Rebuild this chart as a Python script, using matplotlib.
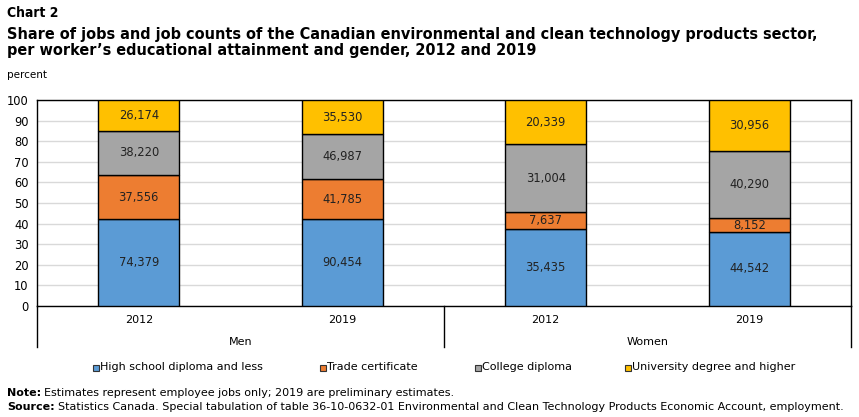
import matplotlib
matplotlib.use("Agg")
import matplotlib.pyplot as plt
import numpy as np
from matplotlib.patches import Rectangle
from matplotlib.lines import Line2D

groups = ["Men", "Women"]
years = ["2012", "2019", "2012", "2019"]
series = ["High school diploma and less", "Trade certificate", "College diploma", "University degree and higher"]
colors = ["#5B9BD5", "#ED7D31", "#A5A5A5", "#FFC000"]
high_school = [74379, 90454, 35435, 44542]
trade = [37556, 41785, 7637, 8152]
college = [38220, 46987, 31004, 40290]
university = [26174, 35530, 20339, 30956]

counts = np.array([high_school, trade, college, university], dtype=float)
shares = counts / counts.sum(axis=0) * 100

W, H = 859, 417
fig = plt.figure(figsize=(W / 100, H / 100), dpi=100)
L, R, T, B = 37, 851, 100, 306
ax = fig.add_axes([L / W, 1 - B / H, (R - L) / W, (B - T) / H])

x = np.arange(len(years))
bottom = np.zeros(len(years))
for i in range(len(series)):
    ax.bar(x, shares[i], 0.4, bottom=bottom, color=colors[i], edgecolor="black",
           linewidth=1, zorder=3)
    for j in range(len(years)):
        ax.text(x[j], bottom[j] + shares[i][j] / 2, f"{int(counts[i][j]):,}",
                ha="center", va="center", fontsize=8.3, color="#222222", zorder=4)
    bottom += shares[i]

ax.set_xlim(-0.5, 3.5)
ax.set_ylim(0, 100)
ax.set_yticks(range(0, 101, 10))
ax.tick_params(axis="y", labelsize=8.3, length=0, pad=6)
ax.set_xticks([])
ax.yaxis.grid(True, color="#D9D9D9", linewidth=1, zorder=0)
for s in ax.spines.values():
    s.set_linewidth(1)
    s.set_color("black")

for j, y in enumerate(years):
    ax.text(x[j], -7, y, ha="center", va="center", fontsize=8, clip_on=False)
for g, name in enumerate(groups):
    ax.text(0.5 + 2 * g, -17.5, name, ha="center", va="center", fontsize=8, clip_on=False)
for xs in [-0.5, 1.5, 3.5]:
    ax.add_line(Line2D([xs, xs], [0, -20], color="black", linewidth=1, clip_on=False))

tkw = dict(fontweight="bold", va="center", fontstretch="condensed")
fig.text(7 / W, 1 - 13 / H, "Chart 2", fontsize=10, **tkw)
fig.text(7 / W, 1 - 34 / H, "Share of jobs and job counts of the Canadian environmental and clean technology products sector,",
         fontsize=11.65, **tkw)
fig.text(7 / W, 1 - 51 / H, "per worker\u2019s educational attainment and gender, 2012 and 2019",
         fontsize=11.65, **tkw)
fig.text(7 / W, 1 - 75 / H, "percent", fontsize=7.5, va="center")

leg_x = [93, 320, 475, 625]
for i, name in enumerate(series):
    fig.patches.append(Rectangle((leg_x[i] / W, 1 - 371 / H), 6 / W, 6 / H, transform=fig.transFigure,
                                 facecolor=colors[i], edgecolor="#333333", linewidth=0.8))
    fig.text((leg_x[i] + 7) / W, 1 - 367 / H, name, fontsize=8, va="center")

renderer = fig.canvas.get_renderer()
def labeled(y, label, rest, size=8.05):
    t = fig.text(7 / W, 1 - y / H, label, fontsize=size, fontweight="bold", va="center")
    bb = t.get_window_extent(renderer)
    fig.text((bb.x1 + 3) / W, 1 - y / H, rest, fontsize=size, va="center")

labeled(393, "Note:", "Estimates represent employee jobs only; 2019 are preliminary estimates.")
labeled(407, "Source:", "Statistics Canada. Special tabulation of table 36-10-0632-01 Environmental and Clean Technology Products Economic Account, employment.")

fig.savefig("out.png", dpi=100)
